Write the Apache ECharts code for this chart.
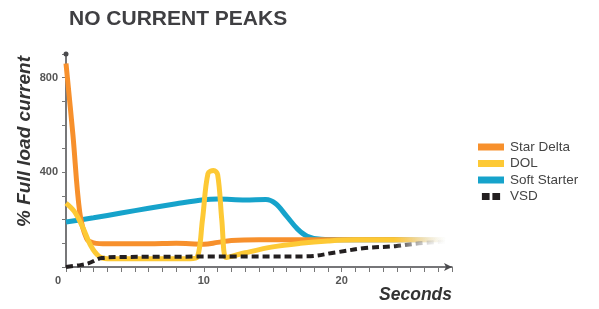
<!DOCTYPE html>
<html>
<head>
<meta charset="utf-8">
<script src="https://cdn.jsdelivr.net/npm/echarts@6/dist/echarts.min.js"></script>
<style>
  html, body { margin: 0; padding: 0; background: #fff; }
  #chart { width: 599px; height: 309px; }
</style>
</head>
<body>
<div id="chart"></div>
<script>
// values: [seconds, % full load current]
var starDelta = [[0, 860], [0.5, 560], [1, 230], [1.5, 120], [2, 102], [3, 98], [6, 98], [8, 100], [10, 96], [11, 104], [12, 112], [14, 115], [20, 115], [27.5, 115]];
var dol = [[0, 270], [0.6, 235], [1.2, 170], [1.8, 90], [2.4, 45], [3, 35], [9, 35], [9.5, 40], [9.9, 200], [10.3, 395], [10.7, 408], [11, 390], [11.3, 200], [11.6, 40], [12, 45], [13, 60], [15, 85], [17, 100], [19, 110], [21, 115], [27.5, 115]];
var softStarter = [[0, 190], [2, 208], [4, 228], [6, 248], [8, 267], [10, 284], [11, 287], [13, 283], [14.5, 285], [15.2, 268], [16, 215], [16.8, 160], [17.5, 130], [18.5, 117], [20, 115], [27.5, 115]];
var vsd = [[0, 0], [1, 8], [1.6, 15], [2.6, 38], [4, 42], [10, 44], [17.5, 45], [19.6, 62], [21.7, 80], [23.9, 88], [25.6, 100], [27.5, 107]];
var seriesNames = ['Star Delta', 'DOL', 'Soft Starter', 'VSD'];
var seriesColors = ['#f7902c', '#fdc935', '#16a3cb', '#231f20'];
var yLabels = [400, 800];
var xLabels = [10, 20];

var chart = echarts.init(document.getElementById('chart'));

function fade (c) {
  return {
    type: 'linear', x: 0, y: 0, x2: 1, y2: 0,
    colorStops: [{ offset: 0, color: c }, { offset: 0.86, color: c }, { offset: 1, color: 'rgba(255,255,255,0.1)' }]
  };
}

var allData = [starDelta, dol, softStarter, vsd];
var series = [];
for (var i = 0; i < allData.length; i++) {
  series.push({
    name: seriesNames[i],
    type: 'line',
    data: allData[i],
    smooth: 0.35,
    showSymbol: false,
    z: [2, 3, 1, 4][i],
    lineStyle: {
      width: i === 3 ? 4 : 5,
      type: i === 3 ? [7, 4] : 'solid',
      color: fade(seriesColors[i])
    },
    itemStyle: { color: seriesColors[i] }
  });
}

chart.setOption({
  animation: false,
  title: {
    text: 'NO CURRENT PEAKS',
    left: 64,
    top: 4,
    textStyle: { fontFamily: 'Liberation Sans', fontWeight: 'bold', fontSize: 21, color: '#3f3f42' }
  },
  legend: {
    orient: 'vertical',
    left: 473,
    top: 135,
    itemWidth: 26,
    itemHeight: 7,
    itemGap: 2.5,
    data: seriesNames.map(function (n, k) {
      return {
        name: n,
        icon: k === 3 ? 'path://M0,0h11v10h-11z M15,0h11v10h-11z' : 'rect',
        itemStyle: { color: seriesColors[k] },
        lineStyle: { width: 0 }
      };
    }),
    textStyle: { fontFamily: 'Liberation Sans', fontSize: 13.5, color: '#444', padding: [0, 0, 0, 1] }
  },
  grid: { left: 66, right: 147, top: 54, bottom: 42 },
  xAxis: {
    type: 'value',
    min: 0,
    max: 28,
    interval: 1,
    name: 'Seconds',
    nameLocation: 'end',
    nameGap: 0,
    nameTextStyle: {
      fontFamily: 'Liberation Sans', fontStyle: 'italic', fontWeight: 'bold', fontSize: 17.5, color: '#333',
      align: 'right', verticalAlign: 'top', padding: [19, 0, 0, 0]
    },
    axisLine: { lineStyle: { color: '#4a4a4d', width: 1.5 }, symbol: ['none', 'arrow'], symbolSize: [6, 8] },
    axisTick: { length: 5, lineStyle: { color: '#777' } },
    splitLine: { show: false },
    axisLabel: {
      interval: 0,
      margin: 8,
      fontFamily: 'Liberation Sans', fontWeight: 'bold', fontSize: 11, color: '#555',
      formatter: function (v) {
        if (v === 0) return '{z|0}';
        return xLabels.indexOf(v) >= 0 ? String(v) : '';
      },
      rich: { z: { padding: [0, 16, 0, 0], fontWeight: 'bold', fontSize: 11, color: '#555' } }
    }
  },
  yAxis: {
    type: 'value',
    min: 0,
    max: 900,
    interval: 100,
    name: '% Full load current',
    nameLocation: 'middle',
    nameRotate: 90,
    nameGap: 32,
    nameMoveOverlap: false,
    nameTextStyle: {
      fontFamily: 'Liberation Sans', fontStyle: 'italic', fontWeight: 'bold', fontSize: 19, color: '#333',
      padding: [0, 0, 0, 38]
    },
    axisLine: { show: true, lineStyle: { color: '#4a4a4d', width: 1.5 }, symbol: ['none', 'circle'], symbolSize: [5, 5] },
    axisTick: { show: true, length: 4, lineStyle: { color: '#777' } },
    splitLine: { show: false },
    axisLabel: {
      margin: 8,
      fontFamily: 'Liberation Sans', fontWeight: 'bold', fontSize: 11, color: '#555',
      formatter: function (v) { return yLabels.indexOf(v) >= 0 ? String(v) : ''; }
    }
  },
  series: series
});
</script>
</body>
</html>
